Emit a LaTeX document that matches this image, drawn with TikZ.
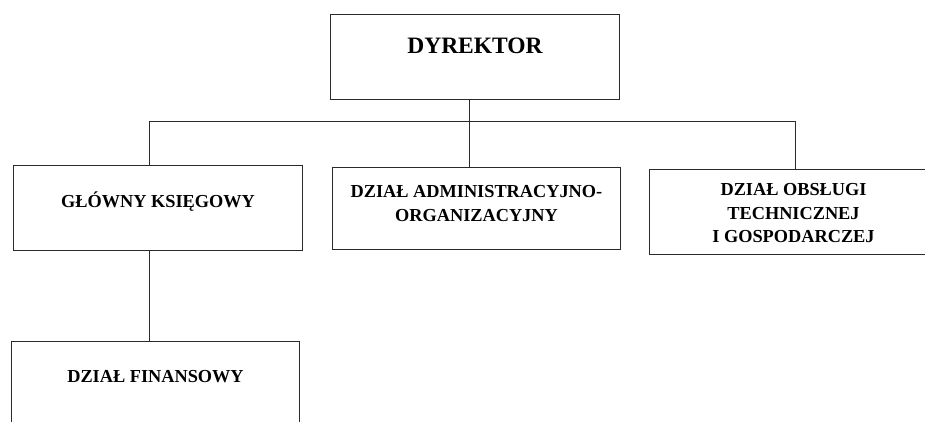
\documentclass[tikz,border=0pt]{standalone}
\usepackage{fontspec}
\setmainfont{Liberation Serif}
\definecolor{linec}{HTML}{2A2A2A}
\newcommand{\orgtext}[4]{\parbox[c][#1pt][t]{#2pt}{\centering\rule{0pt}{#3pt}#4}}
\tikzset{
  orgbox/.style={draw=linec, line width=1pt, inner sep=0pt, anchor=north west,
    font=\bfseries\fontsize{18.3}{23.5}\selectfont},
  conn/.style={draw=linec, line width=1pt}
}
\begin{document}
\begin{tikzpicture}[x=1pt,y=-1pt]
\useasboundingbox (0,0) rectangle (925,422);
\clip (0,0) rectangle (925,422);
\fill[white] (0,0) rectangle (925,422);
\node[orgbox, font=\bfseries\fontsize{23.5}{28}\selectfont] (dyr) at (330,14) {\orgtext{85}{289}{39}{DYREKTOR}};
\node[orgbox] (glowny) at (13,165) {\orgtext{85}{289}{42}{GŁÓWNY KSIĘGOWY}};
\node[orgbox] (admin) at (332,167) {\orgtext{82}{288}{30}{DZIAŁ ADMINISTRACYJNO-\\ORGANIZACYJNY}};
\node[orgbox] (obs) at (649,169) {\orgtext{85}{288}{26}{DZIAŁ OBSŁUGI\\TECHNICZNEJ\\I GOSPODARCZEJ}};
\node[orgbox] (fin) at (11,341) {\orgtext{85}{288}{41}{DZIAŁ FINANSOWY}};
\coordinate (busL) at (149,122);
\coordinate (busM) at (469,122);
\coordinate (busR) at (795,122);
\draw[conn] (busL |- glowny.north) -- (busL) -- (busR) -- (busR |- obs.north);
\draw[conn] (dyr.south -| busM) -- (busM |- admin.north);
\draw[conn] (glowny.south -| busL) -- (busL |- fin.north);
\end{tikzpicture}
\end{document}
